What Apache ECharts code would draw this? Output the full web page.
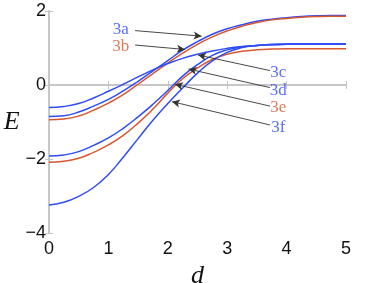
<!DOCTYPE html>
<html><head><meta charset="utf-8">
<script src="https://cdn.jsdelivr.net/npm/echarts@6/dist/echarts.min.js"></script>
<style>html,body{margin:0;padding:0;background:#fff}#c{width:382px;height:283px}</style>
</head><body><div id="c"></div>
<script>
const dVals = [0,0.25,0.5,0.75,1,1.25,1.5,1.75,2,2.25,2.5,2.75,3,3.25,3.5,3.75,4,4.25,4.5,4.75,5];
const e3a = [-0.85,-0.83,-0.73,-0.57,-0.39,-0.16,0.1,0.38,0.66,0.94,1.17,1.37,1.52,1.63,1.72,1.78,1.82,1.85,1.87,1.88,1.88];
const e3b = [-0.94,-0.92,-0.84,-0.68,-0.49,-0.26,0.02,0.31,0.59,0.86,1.1,1.3,1.46,1.59,1.69,1.76,1.8,1.83,1.85,1.86,1.86];
const e3c = [-0.61,-0.58,-0.5,-0.35,-0.17,0.02,0.22,0.41,0.58,0.72,0.83,0.92,0.99,1.04,1.07,1.09,1.1,1.11,1.11,1.11,1.11];
const e3d = [-1.92,-1.89,-1.8,-1.63,-1.43,-1.17,-0.86,-0.52,-0.15,0.24,0.55,0.8,0.95,1.03,1.07,1.09,1.1,1.11,1.11,1.11,1.11];
const e3e = [-2.09,-2.06,-1.98,-1.82,-1.62,-1.36,-1.03,-0.65,-0.22,0.17,0.46,0.69,0.83,0.91,0.95,0.97,0.98,0.98,0.98,0.98,0.98];
const e3f = [-3.24,-3.17,-3.01,-2.77,-2.42,-1.95,-1.45,-0.95,-0.5,-0.08,0.32,0.65,0.88,1.01,1.07,1.1,1.11,1.11,1.11,1.11,1.11];
const xTicks = [0,1,2,3,4,5];
const yTicks = [-4,-2,0,2];
// annotation labels: name, label position [d,E], arrow start [d,E], arrow tip [d,E]
const labelNames = ['3a','3b','3c','3d','3e','3f'];
const labelPos = [[1.21,1.51],[1.21,1.03],[3.86,0.35],[3.86,-0.14],[3.86,-0.62],[3.86,-1.16]];
const arrowFrom = [[1.45,1.47],[1.45,1.08],[3.72,0.39],[3.72,-0.07],[3.72,-0.57],[3.72,-1.08]];
const arrowTo = [[2.57,1.32],[2.29,0.96],[2.51,0.81],[2.35,0.43],[2.12,0.02],[2.07,-0.45]];

const BLUE = '#2f4cf5', RED = '#d8572f';
const curveColors = [BLUE, RED, BLUE, BLUE, RED, BLUE];
const curves = [e3a,e3b,e3c,e3d,e3e,e3f];
const minus = v => String(v).replace('-', '\u2212');

const series = curves.map((vals,i)=>({
  type:'line', name:labelNames[i], data: dVals.map((d,k)=>[d,vals[k]]),
  smooth:0.5, showSymbol:false, symbol:'none',
  lineStyle:{color:curveColors[i], width:1.5}, z:3, animation:false
}));
series.push({
  type:'scatter', symbolSize:0, animation:false, silent:true,
  data: labelPos.map((p,i)=>({value:p, label:{show:true, formatter:labelNames[i], color:curveColors[i]}})),
  label:{position:'inside', fontFamily:'Liberation Serif', fontSize:17},
  markLine:{
    silent:true, animation:false, symbol:['none','arrow'], symbolSize:[6,8],
    lineStyle:{color:'#333', width:0.9, type:'solid'}, label:{show:false},
    data: arrowFrom.map((p,i)=>[{coord:p},{coord:arrowTo[i]}])
  }
});

const axisCommon = {
  axisLine:{show:true, lineStyle:{color:'#c4c4c4', width:1.5}},
  axisTick:{show:true, inside:true, length:4, lineStyle:{color:'#c4c4c4'}},
  splitLine:{show:false}
};
const option = {
  backgroundColor:'#fff', animation:false,
  grid:{left:49, right:36, top:11, bottom:50, containLabel:false, outerBoundsMode:'none'},
  xAxis:[
    Object.assign({}, axisCommon, {type:'value', min:0, max:5, interval:1, position:'bottom',
      axisLabel:{color:'#111', fontFamily:'Liberation Sans', fontSize:18, margin:7, formatter:v=>minus(v)},
      name:'d', nameLocation:'middle', nameGap:26,
      nameTextStyle:{fontFamily:'Liberation Serif', fontStyle:'italic', fontSize:26, color:'#111'}}),
    Object.assign({}, axisCommon, {type:'value', min:0, max:5, interval:1, position:'top', axisLabel:{show:false}})
  ],
  yAxis:[
    Object.assign({}, axisCommon, {type:'value', min:-4, max:2, interval:2, position:'left',
      axisLabel:{color:'#111', fontFamily:'Liberation Sans', fontSize:18, margin:3, formatter:v=>minus(v)},
      name:'E', nameLocation:'middle', nameGap:29, nameRotate:0,
      nameTextStyle:{fontFamily:'Liberation Serif', fontStyle:'italic', fontSize:26, color:'#111'}}),
    Object.assign({}, axisCommon, {type:'value', min:-4, max:2, interval:2, position:'right', axisLabel:{show:false}})
  ],
  series
};
const chart = echarts.init(document.getElementById('c'), null, {renderer:'canvas'});
chart.setOption(option);
</script></body></html>
